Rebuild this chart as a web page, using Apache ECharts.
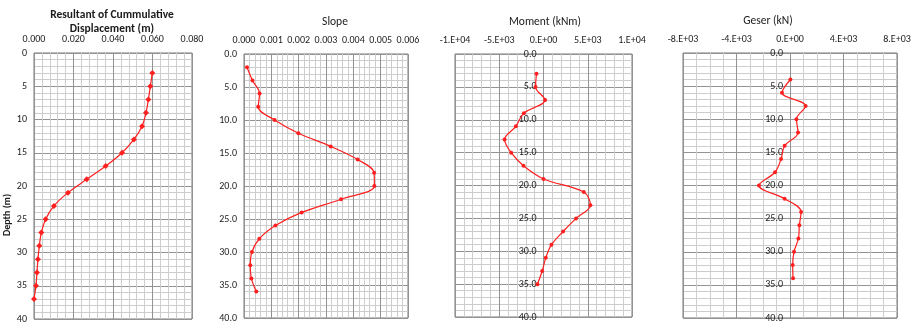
<!DOCTYPE html>
<html>
<head>
<meta charset="utf-8">
<script src="https://cdn.jsdelivr.net/npm/echarts@6/dist/echarts.min.js"></script>
<style>
  html, body { margin: 0; padding: 0; background: #ffffff; }
  #chart { width: 915px; height: 330px; }
</style>
</head>
<body>
<div id="chart"></div>
<script>
// Pile response profiles versus depth (m)
const depthDisp = [3, 5, 7, 9, 11, 13, 15, 17, 19, 21, 23, 25, 27, 29, 31, 33, 35, 37];
const displacement = [0.0599, 0.0589, 0.0579, 0.0567, 0.0547, 0.0506, 0.0446, 0.0363, 0.0267,
                      0.0172, 0.0101, 0.0059, 0.0037, 0.0027, 0.0020, 0.0015, 0.0010, 0.0000];

const depthSlope = [2, 4, 6, 8, 10, 12, 14, 16, 18, 20, 22, 24, 26, 28, 30, 32, 34, 36];
const slope = [0.00011, 0.00031, 0.00057, 0.00052, 0.00112, 0.00199, 0.00317, 0.00416, 0.00476,
               0.00477, 0.00355, 0.00211, 0.00115, 0.00056, 0.00029, 0.00023, 0.00027, 0.00045];

const depthMoment = [3, 5, 7, 9, 11, 13, 15, 17, 19, 21, 23, 25, 27, 29, 31, 33, 35];
const moment = [-790, -900, 180, -2220, -3120, -4400, -3650, -2260, 0, 4550, 5300,
                3680, 2210, 900, 260, -150, -680];

const depthShear = [4, 6, 8, 10, 12, 14, 16, 18, 20, 22, 24, 26, 28, 30, 32, 34];
const shear = [30, -600, 1170, 480, 600, -400, -670, -1120, -2320, -400, 830,
               700, 630, 300, 200, 230];

// Axis tick values
const depthTicks = [0, 5, 10, 15, 20, 25, 30, 35, 40];
const dispTicks = [0, 0.02, 0.04, 0.06, 0.08];
const slopeTicks = [0, 0.001, 0.002, 0.003, 0.004, 0.005, 0.006];
const momentTicks = [-10000, -5000, 0, 5000, 10000];
const shearTicks = [-8000, -4000, 0, 4000, 8000];

const FONT = "Carlito, 'Liberation Sans Narrow', 'Liberation Sans', sans-serif";
const RED = '#ff1f1f';
const MAJOR = '#939393';
const MINOR = '#cdcdcd';
const BORDER = '#777777';

// Excel-style "0.E+00" number format
function sci(v) {
  if (v === 0) return '0.E+00';
  const e = Math.floor(Math.log10(Math.abs(v)) + 1e-9);
  const m = Math.round(v / Math.pow(10, e));
  const es = (e < 0 ? '-' : '+') + String(Math.abs(e)).padStart(2, '0');
  return m + '.E' + es;
}

const gridBoxes = [
  { left: 34, top: 53, width: 158, height: 266 },
  { left: 244, top: 54, width: 164, height: 264 },
  { left: 455, top: 54, width: 177, height: 263 },
  { left: 683, top: 53, width: 214, height: 265 }
];
const grids = gridBoxes.map(g => Object.assign({ show: true, borderColor: BORDER, borderWidth: 1, containLabel: false }, g));

// pixel distance from a grid's left edge to where x = 0 falls
function zeroOffset(idx, ticks) {
  const lo = ticks[0], hi = ticks[ticks.length - 1];
  return gridBoxes[idx].width * (0 - lo) / (hi - lo);
}

function xAxisFor(idx, ticks, minorSplit, fmt) {
  return {
    type: 'value', gridIndex: idx, position: 'top',
    min: ticks[0], max: ticks[ticks.length - 1], interval: ticks[1] - ticks[0],
    axisLine: { show: false, onZero: false }, axisTick: { show: false },
    axisLabel: { formatter: fmt, fontFamily: FONT, fontSize: 10, color: '#222', margin: 9, showMinLabel: true, showMaxLabel: true },
    splitLine: { show: true, lineStyle: { color: MAJOR, width: 1 } },
    minorTick: { show: false, splitNumber: minorSplit },
    minorSplitLine: { show: true, lineStyle: { color: MINOR, width: 1 } }
  };
}

function yAxisFor(idx, fmt, shift) {
  return {
    type: 'value', gridIndex: idx, inverse: true, position: 'left',
    offset: -shift,
    min: depthTicks[0], max: depthTicks[depthTicks.length - 1], interval: depthTicks[1] - depthTicks[0],
    axisLine: { show: false, onZero: false },
    axisTick: { show: false },
    axisLabel: { formatter: fmt, fontFamily: FONT, fontSize: 10, color: '#222', margin: 7 },
    splitLine: { show: true, lineStyle: { color: MAJOR, width: 1 } },
    minorTick: { show: false, splitNumber: 5 },
    minorSplitLine: { show: true, lineStyle: { color: MINOR, width: 1 } }
  };
}

function pairs(xs, ys) { return xs.map((v, i) => [v, ys[i]]); }

function profile(idx, xs, ys, symbol, size) {
  return {
    type: 'line', xAxisIndex: idx, yAxisIndex: idx,
    data: pairs(xs, ys), smooth: 0.35, clip: false,
    symbol: symbol, symbolSize: size, showSymbol: true,
    lineStyle: { color: RED, width: 1.2 },
    itemStyle: { color: RED },
    emphasis: { disabled: true }, z: 5
  };
}

function titleStyle(size) {
  return { fontFamily: FONT, fontSize: size, color: '#1a1a1a', fontWeight: 'normal' };
}

const option = {
  animation: false,
  backgroundColor: '#ffffff',
  grid: grids,
  title: [
    { text: 'Resultant of Cummulative\nDisplacement (m)', left: 107, top: 3, textAlign: 'center',
      textStyle: Object.assign(titleStyle(11.5), { fontWeight: 'bold', lineHeight: 14 }) },
    { text: 'Slope', left: 330, top: 11, textAlign: 'center', textStyle: titleStyle(11.5) },
    { text: 'Moment (kNm)', left: 540, top: 11, textAlign: 'center', textStyle: titleStyle(11.5) },
    { text: 'Geser (kN)', left: 763, top: 10, textAlign: 'center', textStyle: titleStyle(11.5) }
  ],
  graphic: [{
    type: 'text', left: 2, top: 194, rotation: Math.PI / 2,
    style: { text: 'Depth (m)', fill: '#1a1a1a', font: 'bold 10px ' + FONT }
  }],
  xAxis: [
    xAxisFor(0, dispTicks, 5, v => v.toFixed(3)),
    xAxisFor(1, slopeTicks, 5, v => v.toFixed(3)),
    xAxisFor(2, momentTicks, 5, sci),
    xAxisFor(3, shearTicks, 4, sci)
  ],
  yAxis: [
    yAxisFor(0, v => String(v), 0),
    yAxisFor(1, v => v.toFixed(1), 0),
    yAxisFor(2, v => v.toFixed(1), zeroOffset(2, momentTicks)),
    yAxisFor(3, v => v.toFixed(1), zeroOffset(3, shearTicks))
  ],
  series: [
    profile(0, displacement, depthDisp, 'diamond', 6),
    profile(1, slope, depthSlope, 'circle', 4),
    profile(2, moment, depthMoment, 'circle', 4),
    profile(3, shear, depthShear, 'circle', 4)
  ]
};

const chart = echarts.init(document.getElementById('chart'), null, { renderer: 'canvas' });
chart.setOption(option);
</script>
</body>
</html>
